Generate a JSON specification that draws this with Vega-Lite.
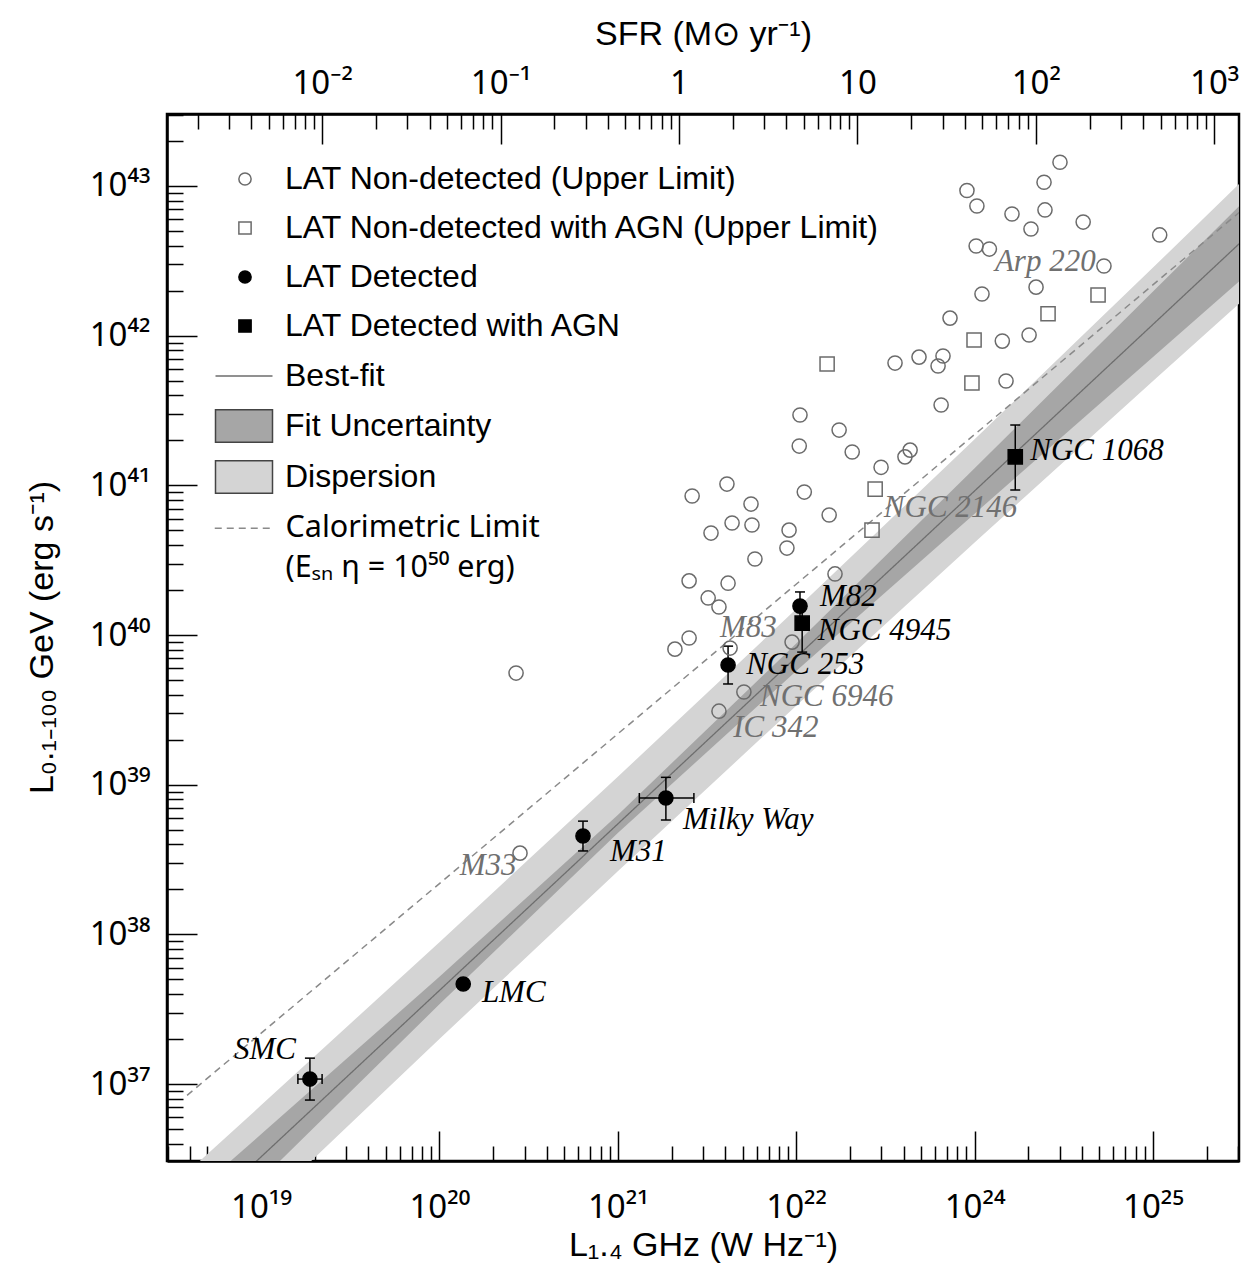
{
  "$schema": "https://vega.github.io/schema/vega-lite/v6.json",
  "width": 1072,
  "height": 1047,
  "autosize": {"type": "none"},
  "padding": {"left": 167, "top": 114, "right": 5, "bottom": 120},
  "background": "white",
  "config": {
    "view": {"stroke": "black", "strokeWidth": 2.5},
    "font": "Liberation Sans",
    "axis": {
      "labelFont": "Noto Sans", "titleFont": "Liberation Sans, Noto Sans", "grid": false,
      "domainColor": "black", "domainWidth": 2.5, "tickColor": "black", "tickWidth": 1.5,
      "labelColor": "black", "titleColor": "black", "titleFontWeight": "normal",
      "labelFontSize": 33, "titleFontSize": 34, "zindex": 1, "labelOverlap": false,
      "labelFlush": false, "labelBound": false
    },
    "legend": {"labelFont": "Liberation Sans, Noto Sans", "labelFontSize": 32, "labelLimit": 2000, "padding": 0, "labelColor": "black"}
  },
  "datasets": {
    "light": [
      {"x": 2.00e18, "y": 2.32e35, "y2": 1.26e36, "band": "Dispersion"},
      {"x": 1e19, "y": 1.47e36, "y2": 7.21e36, "band": "Dispersion"},
      {"x": 1e20, "y": 2.00e37, "y2": 8.87e37, "band": "Dispersion"},
      {"x": 1e21, "y": 2.64e38, "y2": 1.13e39, "band": "Dispersion"},
      {"x": 1e22, "y": 3.37e39, "y2": 1.49e40, "band": "Dispersion"},
      {"x": 1e23, "y": 4.15e40, "y2": 2.03e41, "band": "Dispersion"},
      {"x": 1e24, "y": 4.98e41, "y2": 2.85e42, "band": "Dispersion"},
      {"x": 3.98e24, "y": 2.19e42, "y2": 1.41e43, "band": "Dispersion"}
    ],
    "dark": [
      {"x": 2.00e18, "y": 3.44e35, "y2": 8.55e35, "band": "Fit Uncertainty"},
      {"x": 1e19, "y": 2.30e36, "y2": 4.62e36, "band": "Fit Uncertainty"},
      {"x": 1e20, "y": 3.41e37, "y2": 5.21e37, "band": "Fit Uncertainty"},
      {"x": 1e21, "y": 4.76e38, "y2": 6.28e38, "band": "Fit Uncertainty"},
      {"x": 1e22, "y": 5.74e39, "y2": 8.77e39, "band": "Fit Uncertainty"},
      {"x": 1e23, "y": 6.47e40, "y2": 1.30e41, "band": "Fit Uncertainty"},
      {"x": 1e24, "y": 7.21e41, "y2": 1.97e42, "band": "Fit Uncertainty"},
      {"x": 3.98e24, "y": 3.05e42, "y2": 1.01e43, "band": "Fit Uncertainty"}
    ],
    "fit": [
      {"x": 2.00e18, "y": 5.42e35, "kind": "Best-fit"},
      {"x": 1e19, "y": 3.26e36, "kind": "Best-fit"},
      {"x": 1e20, "y": 4.22e37, "kind": "Best-fit"},
      {"x": 1e21, "y": 5.47e38, "kind": "Best-fit"},
      {"x": 1e22, "y": 7.10e39, "kind": "Best-fit"},
      {"x": 1e23, "y": 9.18e40, "kind": "Best-fit"},
      {"x": 1e24, "y": 1.19e42, "kind": "Best-fit"},
      {"x": 3.98e24, "y": 5.55e42, "kind": "Best-fit"}
    ],
    "calo": [
      {"x": 3.85e18, "y": 8.41e36, "calo": "Calorimetric Limit"},
      {"x": 3.98e24, "y": 8.71e42, "calo": "Calorimetric Limit"}
    ],
    "det": [
      {"name": "SMC", "x": 1.88e19, "y": 1.08e37, "ylo": 7.82e36, "yhi": 1.49e37, "xlo": 1.61e19, "xhi": 2.20e19},
      {"name": "M31", "x": 6.38e20, "y": 4.54e38, "ylo": 3.61e38, "yhi": 5.71e38},
      {"name": "Milky Way", "x": 1.86e21, "y": 8.15e38, "ylo": 5.81e38, "yhi": 1.12e39, "xlo": 1.32e21, "xhi": 2.67e21},
      {"name": "NGC 253", "x": 4.15e21, "y": 6.31e39, "ylo": 4.71e39, "yhi": 8.43e39},
      {"name": "M82", "x": 1.05e22, "y": 1.56e40, "ylo": 1.26e40, "yhi": 1.94e40},
      {"name": "NGC 4945", "x": 1.08e22, "y": 1.20e40, "ylo": 7.69e39, "yhi": 1.58e40},
      {"name": "NGC 1068", "x": 1.69e23, "y": 1.55e41, "ylo": 9.31e40, "yhi": 2.53e41}
    ],
    "pts": [
      {"x": 3.01e23, "y": 1.44e43, "type": "LAT Non-detected (Upper Limit)"},
      {"x": 9.06e22, "y": 9.33e42, "type": "LAT Non-detected (Upper Limit)"},
      {"x": 1.03e23, "y": 7.35e42, "type": "LAT Non-detected (Upper Limit)"},
      {"x": 2.45e23, "y": 1.06e43, "type": "LAT Non-detected (Upper Limit)"},
      {"x": 1.62e23, "y": 6.50e42, "type": "LAT Non-detected (Upper Limit)"},
      {"x": 2.48e23, "y": 6.92e42, "type": "LAT Non-detected (Upper Limit)"},
      {"x": 4.06e23, "y": 5.74e42, "type": "LAT Non-detected (Upper Limit)"},
      {"x": 2.07e23, "y": 5.16e42, "type": "LAT Non-detected (Upper Limit)"},
      {"x": 1.09e24, "y": 4.71e42, "type": "LAT Non-detected (Upper Limit)"},
      {"x": 1.02e23, "y": 3.97e42, "type": "LAT Non-detected (Upper Limit)"},
      {"x": 1.21e23, "y": 3.79e42, "type": "LAT Non-detected (Upper Limit)"},
      {"x": 5.31e23, "y": 2.92e42, "type": "LAT Non-detected (Upper Limit)"},
      {"x": 2.21e23, "y": 2.11e42, "type": "LAT Non-detected (Upper Limit)"},
      {"x": 1.10e23, "y": 1.90e42, "type": "LAT Non-detected (Upper Limit)"},
      {"x": 7.28e22, "y": 1.31e42, "type": "LAT Non-detected (Upper Limit)"},
      {"x": 2.02e23, "y": 1.01e42, "type": "LAT Non-detected (Upper Limit)"},
      {"x": 1.43e23, "y": 9.20e41, "type": "LAT Non-detected (Upper Limit)"},
      {"x": 3.58e22, "y": 6.56e41, "type": "LAT Non-detected (Upper Limit)"},
      {"x": 4.88e22, "y": 7.19e41, "type": "LAT Non-detected (Upper Limit)"},
      {"x": 6.65e22, "y": 7.31e41, "type": "LAT Non-detected (Upper Limit)"},
      {"x": 6.24e22, "y": 6.27e41, "type": "LAT Non-detected (Upper Limit)"},
      {"x": 1.50e23, "y": 4.98e41, "type": "LAT Non-detected (Upper Limit)"},
      {"x": 6.49e22, "y": 3.44e41, "type": "LAT Non-detected (Upper Limit)"},
      {"x": 1.05e22, "y": 2.95e41, "type": "LAT Non-detected (Upper Limit)"},
      {"x": 1.74e22, "y": 2.34e41, "type": "LAT Non-detected (Upper Limit)"},
      {"x": 1.04e22, "y": 1.83e41, "type": "LAT Non-detected (Upper Limit)"},
      {"x": 2.06e22, "y": 1.67e41, "type": "LAT Non-detected (Upper Limit)"},
      {"x": 4.35e22, "y": 1.72e41, "type": "LAT Non-detected (Upper Limit)"},
      {"x": 4.07e22, "y": 1.55e41, "type": "LAT Non-detected (Upper Limit)"},
      {"x": 2.99e22, "y": 1.32e41, "type": "LAT Non-detected (Upper Limit)"},
      {"x": 2.61e21, "y": 8.49e40, "type": "LAT Non-detected (Upper Limit)"},
      {"x": 4.09e21, "y": 1.02e41, "type": "LAT Non-detected (Upper Limit)"},
      {"x": 5.58e21, "y": 7.50e40, "type": "LAT Non-detected (Upper Limit)"},
      {"x": 1.11e22, "y": 9.02e40, "type": "LAT Non-detected (Upper Limit)"},
      {"x": 4.37e21, "y": 5.60e40, "type": "LAT Non-detected (Upper Limit)"},
      {"x": 3.33e21, "y": 4.80e40, "type": "LAT Non-detected (Upper Limit)"},
      {"x": 5.65e21, "y": 5.43e40, "type": "LAT Non-detected (Upper Limit)"},
      {"x": 1.53e22, "y": 6.34e40, "type": "LAT Non-detected (Upper Limit)"},
      {"x": 9.12e21, "y": 5.02e40, "type": "LAT Non-detected (Upper Limit)"},
      {"x": 8.87e21, "y": 3.81e40, "type": "LAT Non-detected (Upper Limit)"},
      {"x": 5.87e21, "y": 3.22e40, "type": "LAT Non-detected (Upper Limit)"},
      {"x": 1.65e22, "y": 2.56e40, "type": "LAT Non-detected (Upper Limit)"},
      {"x": 2.51e21, "y": 2.30e40, "type": "LAT Non-detected (Upper Limit)"},
      {"x": 4.15e21, "y": 2.22e40, "type": "LAT Non-detected (Upper Limit)"},
      {"x": 3.21e21, "y": 1.77e40, "type": "LAT Non-detected (Upper Limit)"},
      {"x": 3.69e21, "y": 1.54e40, "type": "LAT Non-detected (Upper Limit)"},
      {"x": 2.51e21, "y": 9.55e39, "type": "LAT Non-detected (Upper Limit)"},
      {"x": 2.09e21, "y": 8.05e39, "type": "LAT Non-detected (Upper Limit)"},
      {"x": 4.26e21, "y": 8.18e39, "type": "LAT Non-detected (Upper Limit)"},
      {"x": 9.48e21, "y": 8.97e39, "type": "LAT Non-detected (Upper Limit)"},
      {"x": 5.09e21, "y": 4.16e39, "type": "LAT Non-detected (Upper Limit)"},
      {"x": 3.69e21, "y": 3.10e39, "type": "LAT Non-detected (Upper Limit)"},
      {"x": 2.69e20, "y": 5.57e39, "type": "LAT Non-detected (Upper Limit)"},
      {"x": 2.83e20, "y": 3.49e38, "type": "LAT Non-detected (Upper Limit)"},
      {"x": 1.49e22, "y": 6.47e41, "type": "LAT Non-detected with AGN (Upper Limit)"},
      {"x": 9.93e22, "y": 9.35e41, "type": "LAT Non-detected with AGN (Upper Limit)"},
      {"x": 2.58e23, "y": 1.40e42, "type": "LAT Non-detected with AGN (Upper Limit)"},
      {"x": 4.92e23, "y": 1.87e42, "type": "LAT Non-detected with AGN (Upper Limit)"},
      {"x": 9.66e22, "y": 4.83e41, "type": "LAT Non-detected with AGN (Upper Limit)"},
      {"x": 2.77e22, "y": 9.44e40, "type": "LAT Non-detected with AGN (Upper Limit)"},
      {"x": 2.66e22, "y": 5.02e40, "type": "LAT Non-detected with AGN (Upper Limit)"},
      {"x": 1.88e19, "y": 1.08e37, "type": "LAT Detected"},
      {"x": 1.36e20, "y": 4.66e37, "type": "LAT Detected"},
      {"x": 6.38e20, "y": 4.54e38, "type": "LAT Detected"},
      {"x": 1.86e21, "y": 8.15e38, "type": "LAT Detected"},
      {"x": 4.15e21, "y": 6.31e39, "type": "LAT Detected"},
      {"x": 1.05e22, "y": 1.56e40, "type": "LAT Detected"},
      {"x": 1.08e22, "y": 1.20e40, "type": "LAT Detected with AGN"},
      {"x": 1.69e23, "y": 1.55e41, "type": "LAT Detected with AGN"}
    ],
    "labels": [
      {"label": "SMC", "x": 7.06e18, "y": 1.69e37, "det": true},
      {"label": "LMC", "x": 1.73e20, "y": 4.06e37, "det": true},
      {"label": "M31", "x": 9.04e20, "y": 3.55e38, "det": true},
      {"label": "Milky Way", "x": 2.32e21, "y": 5.81e38, "det": true},
      {"label": "NGC 253", "x": 5.24e21, "y": 6.31e39, "det": true},
      {"label": "M82", "x": 1.36e22, "y": 1.79e40, "det": true},
      {"label": "NGC 4945", "x": 1.32e22, "y": 1.06e40, "det": true},
      {"label": "NGC 1068", "x": 2.05e23, "y": 1.69e41, "det": true},
      {"label": "Arp 220", "x": 1.30e23, "y": 3.10e42, "det": false},
      {"label": "NGC 2146", "x": 3.10e22, "y": 7.06e40, "det": false},
      {"label": "M83", "x": 3.74e21, "y": 1.11e40, "det": false},
      {"label": "NGC 6946", "x": 6.27e21, "y": 3.85e39, "det": false},
      {"label": "IC 342", "x": 4.44e21, "y": 2.39e39, "det": false},
      {"label": "M33", "x": 1.30e20, "y": 2.86e38, "det": false}
    ]
  },
  "layer": [
    {
      "encoding": {
        "x": {
          "field": "x", "type": "quantitative", "title": "L₁.₄ GHz (W Hz⁻¹)",
          "scale": {"type": "log", "domain": [2.972e18, 3.034e24], "nice": false},
          "axis": {
            "orient": "bottom",
            "values": [3e18,4e18,5e18,6e18,7e18,8e18,9e18,1e19,2e19,3e19,4e19,5e19,6e19,7e19,8e19,9e19,1e20,2e20,3e20,4e20,5e20,6e20,7e20,8e20,9e20,1e21,2e21,3e21,4e21,5e21,6e21,7e21,8e21,9e21,1e22,2e22,3e22,4e22,5e22,6e22,7e22,8e22,9e22,1e23,2e23,3e23,4e23,5e23,6e23,7e23,8e23,9e23,1e24,2e24,3e24],
            "tickSize": {"condition": {"test": "abs(log(datum.value)/LN10-round(log(datum.value)/LN10))<0.001", "value": -30}, "value": -15},
            "labelExpr": "abs(log(datum.value)/LN10-round(log(datum.value)/LN10))>0.001 ? '' : round(log(datum.value)/LN10)==19 ? '10¹⁹' : round(log(datum.value)/LN10)==20 ? '10²⁰' : round(log(datum.value)/LN10)==21 ? '10²¹' : round(log(datum.value)/LN10)==22 ? '10²²' : round(log(datum.value)/LN10)==23 ? '10²⁴' : '10²⁵'",
            "labelPadding": 60, "labelBaseline": "top", "labelAlign": "center",
            "titleX": 536, "titleY": 84, "titleBaseline": "middle", "titleAlign": "center"
          }
        },
        "y": {
          "field": "y", "type": "quantitative", "title": "L₀.₁₋₁₀₀ GeV (erg s⁻¹)",
          "scale": {"type": "log", "domain": [3.062e36, 3.027e43], "nice": false},
          "axis": {
            "orient": "left",
            "values": [4e36,5e36,6e36,7e36,8e36,9e36,1e37,2e37,3e37,4e37,5e37,6e37,7e37,8e37,9e37,1e38,2e38,3e38,4e38,5e38,6e38,7e38,8e38,9e38,1e39,2e39,3e39,4e39,5e39,6e39,7e39,8e39,9e39,1e40,2e40,3e40,4e40,5e40,6e40,7e40,8e40,9e40,1e41,2e41,3e41,4e41,5e41,6e41,7e41,8e41,9e41,1e42,2e42,3e42,4e42,5e42,6e42,7e42,8e42,9e42,1e43,2e43,3e43],
            "tickSize": {"condition": {"test": "abs(log(datum.value)/LN10-round(log(datum.value)/LN10))<0.001", "value": -30}, "value": -16},
            "labelExpr": "abs(log(datum.value)/LN10-round(log(datum.value)/LN10))>0.001 ? '' : round(log(datum.value)/LN10)==37 ? '10³⁷' : round(log(datum.value)/LN10)==38 ? '10³⁸' : round(log(datum.value)/LN10)==39 ? '10³⁹' : round(log(datum.value)/LN10)==40 ? '10⁴⁰' : round(log(datum.value)/LN10)==41 ? '10⁴¹' : round(log(datum.value)/LN10)==42 ? '10⁴²' : '10⁴³'",
            "labelPadding": 47, "labelAlign": "right", "labelBaseline": "middle",
            "titleX": -125, "titleY": 523, "titleAngle": 270, "titleBaseline": "middle", "titleAlign": "center"
          }
        }
      },
      "layer": [
        {
          "data": {"name": "light"},
          "mark": {"type": "area", "clip": true, "opacity": 1},
          "encoding": {
            "y2": {"field": "y2"},
            "color": {"field": "band", "type": "nominal",
              "scale": {"domain": ["Fit Uncertainty", "Dispersion"], "range": ["#a6a6a6", "#d4d4d4"]},
              "legend": {"title": null, "orient": "none", "legendX": 61, "legendY": 296, "symbolType": "M-3,-1.7L3,-1.7L3,1.7L-3,1.7Z", "symbolSize": 361, "symbolStrokeColor": "#444444", "symbolStrokeWidth": 1.5, "symbolOpacity": 1, "labelOffset": 25, "rowPadding": 11}}
          }
        },
        {
          "data": {"name": "dark"},
          "mark": {"type": "area", "clip": true, "opacity": 1},
          "encoding": {
            "y2": {"field": "y2"},
            "color": {"field": "band", "type": "nominal",
              "scale": {"domain": ["Fit Uncertainty", "Dispersion"], "range": ["#a6a6a6", "#d4d4d4"]},
              "legend": {"title": null, "orient": "none", "legendX": 61, "legendY": 296, "symbolType": "M-3,-1.7L3,-1.7L3,1.7L-3,1.7Z", "symbolSize": 361, "symbolStrokeColor": "#444444", "symbolStrokeWidth": 1.5, "symbolOpacity": 1, "labelOffset": 25, "rowPadding": 11}}
          }
        },
        {
          "data": {"name": "fit"},
          "mark": {"type": "line", "clip": true, "stroke": "#6e6e6e", "strokeWidth": 1.3},
          "encoding": {
            "strokeDash": {"field": "kind", "type": "nominal",
              "scale": {"domain": ["Best-fit"], "range": [[1, 0]]},
              "legend": {"title": null, "orient": "none", "legendX": 61, "legendY": 246, "symbolType": "M-3,0L3,0", "symbolSize": 361, "symbolStrokeColor": "#6e6e6e", "symbolStrokeWidth": 1.5, "symbolFillColor": "transparent", "labelOffset": 25}}
          }
        },
        {
          "data": {"name": "calo"},
          "mark": {"type": "line", "clip": true, "stroke": "#8a8a8a", "strokeWidth": 1.5, "strokeDash": [7, 5]},
          "encoding": {
            "opacity": {"field": "calo", "type": "ordinal",
              "scale": {"domain": ["Calorimetric Limit", "(Eₛₙ η = 10⁵⁰ erg)"], "range": [1, 0]},
              "legend": {"title": null, "orient": "none", "legendX": 61, "legendY": 399, "symbolType": "M-3,0L3,0", "symbolSize": 361, "symbolStrokeColor": "#8a8a8a", "symbolStrokeWidth": 1.5, "symbolDash": [7, 5], "symbolFillColor": "transparent", "labelOffset": 27, "rowPadding": 9, "labelFont": "Noto Sans", "labelFontSize": 30.5}}
          }
        },
        {
          "data": {"name": "det"},
          "mark": {"type": "rule", "color": "black", "strokeWidth": 1.5},
          "encoding": {
            "y": {"field": "ylo", "type": "quantitative", "title": "L₀.₁₋₁₀₀ GeV (erg s⁻¹)", "scale": {"type": "log", "domain": [3.062e36, 3.027e43], "nice": false}},
            "y2": {"field": "yhi"}
          }
        },
        {
          "data": {"name": "det"},
          "transform": [{"filter": "isValid(datum.xlo)"}],
          "mark": {"type": "rule", "color": "black", "strokeWidth": 1.5},
          "encoding": {
            "x": {"field": "xlo", "type": "quantitative", "title": "L₁.₄ GHz (W Hz⁻¹)", "scale": {"type": "log", "domain": [2.972e18, 3.034e24], "nice": false}},
            "x2": {"field": "xhi"}
          }
        },
        {
          "data": {"name": "det"},
          "mark": {"type": "tick", "orient": "horizontal", "color": "black", "size": 10, "thickness": 1.5, "opacity": 1},
          "encoding": {
            "y": {"field": "ylo", "type": "quantitative", "title": "L₀.₁₋₁₀₀ GeV (erg s⁻¹)", "scale": {"type": "log", "domain": [3.062e36, 3.027e43], "nice": false}}
          }
        },
        {
          "data": {"name": "det"},
          "mark": {"type": "tick", "orient": "horizontal", "color": "black", "size": 10, "thickness": 1.5, "opacity": 1},
          "encoding": {
            "y": {"field": "yhi", "type": "quantitative", "title": "L₀.₁₋₁₀₀ GeV (erg s⁻¹)", "scale": {"type": "log", "domain": [3.062e36, 3.027e43], "nice": false}}
          }
        },
        {
          "data": {"name": "det"},
          "transform": [{"filter": "isValid(datum.xlo)"}],
          "mark": {"type": "tick", "orient": "vertical", "color": "black", "size": 10, "thickness": 1.5, "opacity": 1},
          "encoding": {
            "x": {"field": "xlo", "type": "quantitative", "title": "L₁.₄ GHz (W Hz⁻¹)", "scale": {"type": "log", "domain": [2.972e18, 3.034e24], "nice": false}}
          }
        },
        {
          "data": {"name": "det"},
          "transform": [{"filter": "isValid(datum.xhi)"}],
          "mark": {"type": "tick", "orient": "vertical", "color": "black", "size": 10, "thickness": 1.5, "opacity": 1},
          "encoding": {
            "x": {"field": "xhi", "type": "quantitative", "title": "L₁.₄ GHz (W Hz⁻¹)", "scale": {"type": "log", "domain": [2.972e18, 3.034e24], "nice": false}}
          }
        },
        {
          "data": {"name": "pts"},
          "mark": {"type": "point", "opacity": 1, "strokeWidth": 1.5, "size": 200},
          "encoding": {
            "shape": {"field": "type", "type": "nominal",
              "scale": {"domain": ["LAT Non-detected (Upper Limit)", "LAT Non-detected with AGN (Upper Limit)", "LAT Detected", "LAT Detected with AGN"], "range": ["circle", "square", "circle", "square"]},
              "legend": {"title": null, "orient": "none", "legendX": 62, "legendY": 49, "symbolSize": 150, "symbolStrokeWidth": 1.5, "labelOffset": 24, "rowPadding": 17}},
            "fill": {"field": "type", "type": "nominal",
              "scale": {"domain": ["LAT Non-detected (Upper Limit)", "LAT Non-detected with AGN (Upper Limit)", "LAT Detected", "LAT Detected with AGN"], "range": ["transparent", "transparent", "black", "black"]},
              "legend": {"title": null, "orient": "none", "legendX": 62, "legendY": 49, "symbolSize": 150, "symbolStrokeWidth": 1.5, "labelOffset": 24, "rowPadding": 17}},
            "stroke": {"field": "type", "type": "nominal",
              "scale": {"domain": ["LAT Non-detected (Upper Limit)", "LAT Non-detected with AGN (Upper Limit)", "LAT Detected", "LAT Detected with AGN"], "range": ["#6b6b6b", "#6b6b6b", "black", "black"]},
              "legend": {"title": null, "orient": "none", "legendX": 62, "legendY": 49, "symbolSize": 150, "symbolStrokeWidth": 1.5, "labelOffset": 24, "rowPadding": 17}}
          }
        },
        {
          "data": {"name": "labels"},
          "mark": {"type": "text", "align": "left", "baseline": "middle", "font": "Liberation Serif", "fontStyle": "italic", "fontSize": 31},
          "encoding": {
            "text": {"field": "label"},
            "color": {"condition": {"test": "datum.det", "value": "black"}, "value": "#707070"}
          }
        }
      ]
    },
    {
      "data": {"values": [{"sfr": 1}]},
      "mark": {"type": "rule", "opacity": 0},
      "encoding": {
        "x": {
          "field": "sfr", "type": "quantitative", "title": "SFR (M⊙ yr⁻¹)",
          "scale": {"type": "log", "domain": [0.001349, 1377], "nice": false},
          "axis": {
            "orient": "top",
            "values": [0.002,0.003,0.004,0.005,0.006,0.007,0.008,0.009,0.01,0.02,0.03,0.04,0.05,0.06,0.07,0.08,0.09,0.1,0.2,0.3,0.4,0.5,0.6,0.7,0.8,0.9,1,2,3,4,5,6,7,8,9,10,20,30,40,50,60,70,80,90,100,200,300,400,500,600,700,800,900,1000],
            "tickSize": {"condition": {"test": "abs(log(datum.value)/LN10-round(log(datum.value)/LN10))<0.001", "value": -30}, "value": -15},
            "labelExpr": "abs(log(datum.value)/LN10-round(log(datum.value)/LN10))>0.001 ? '' : round(log(datum.value)/LN10)==-2 ? '10⁻²' : round(log(datum.value)/LN10)==-1 ? '10⁻¹' : round(log(datum.value)/LN10)==0 ? '1' : round(log(datum.value)/LN10)==1 ? '10' : round(log(datum.value)/LN10)==2 ? '10²' : '10³'",
            "labelPadding": 44, "labelBaseline": "bottom", "labelAlign": "center",
            "titleX": 536, "titleY": -80, "titleBaseline": "middle", "titleAlign": "center"
          }
        }
      }
    }
  ],
  "resolve": {"scale": {"x": "independent"}, "axis": {"x": "independent"}}
}
